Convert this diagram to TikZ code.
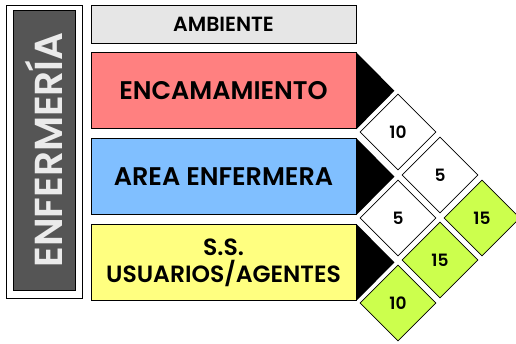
\documentclass[tikz,border=0pt]{standalone}
\usepackage{fontspec}
\setmainfont{Poppins}[BoldFont={* SemiBold}]
\usetikzlibrary{positioning, shapes.geometric}

\definecolor{ambgray}{RGB}{230,230,230}
\definecolor{zonered}{RGB}{255,128,128}
\definecolor{zoneblue}{RGB}{128,191,255}
\definecolor{zoneyellow}{RGB}{255,255,128}
\definecolor{cellgreen}{RGB}{204,255,77}
\definecolor{bannergray}{RGB}{85,85,85}

\begin{document}
\begin{tikzpicture}[
    x=1pt, y=1pt,
    node distance=9pt,
    zone/.style={draw, line width=0.8pt, minimum width=265pt, minimum height=76pt, inner sep=0pt, align=center, font=\bfseries\fontsize{25.5}{28}\selectfont},
    cell/.style={diamond, draw, line width=0.6pt, fill=white, minimum width=76pt, minimum height=76pt, inner sep=0pt, font=\bfseries\fontsize{17}{17}\selectfont},
    pointer/.style={fill=black}
]
    \useasboundingbox (0,0) rectangle (516,343);

    % --- LEFT BANNER ---
    \node[draw, line width=0.8pt, fill=white, minimum width=76pt, minimum height=293pt] (frame) at (44,191.5) {};
    \node[draw, line width=0.8pt, fill=bannergray, minimum width=280pt, minimum height=62pt, inner sep=0pt, rotate=90, text=black!8, font=\bfseries\fontsize{39}{42}\selectfont] (title) at (44,193) {ENFERMERÍA};

    % --- ZONES ---
    \node[zone, fill=ambgray, minimum height=38pt, font=\bfseries\fontsize{20.5}{22}\selectfont] (ambiente) at (223.5,319) {AMBIENTE};
    \node[zone, fill=zonered, below=of ambiente] (encamamiento) {ENCAMAMIENTO};
    \node[zone, fill=zoneblue, below=of encamamiento] (area) {AREA ENFERMERA};
    \node[zone, fill=zoneyellow, below=of area, font=\bfseries\fontsize{23.5}{27}\selectfont] (ss) {S.S.\\USUARIOS/AGENTES};

    % --- POINTERS ---
    \foreach \z in {encamamiento, area, ss}
        \fill[pointer] (\z.north east) -- ([xshift=38pt]\z.east) -- (\z.south east) -- cycle;

    % --- CORRELATION CELLS ---
    \node[cell] (encarea) at (398,211) {10};
    \node[cell] (encss) at (440,168) {5};
    \node[cell] (areass) at (398,125) {5};
    \node[cell, fill=cellgreen] (encamb) at (482,125) {15};
    \node[cell, fill=cellgreen] (areaamb) at (440,83) {15};
    \node[cell, fill=cellgreen] (ssamb) at (398,40) {10};

\end{tikzpicture}
\end{document}
